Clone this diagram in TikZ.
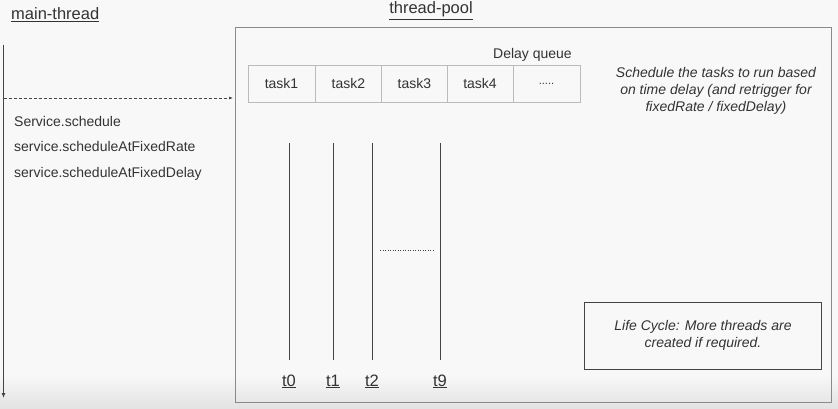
\documentclass[tikz,border=0pt]{standalone}
\usepackage{fontspec}
\setmainfont{Liberation Sans}
\usetikzlibrary{arrows.meta}
\definecolor{bg}{HTML}{F8F8F8}
\definecolor{bgdark}{HTML}{E2E2E2}
\definecolor{txt}{HTML}{333333}
\definecolor{ln}{HTML}{444444}
\definecolor{cellb}{HTML}{BBBBBB}
\definecolor{poolb}{HTML}{8A8A8A}
\begin{document}
\begin{tikzpicture}[x=1pt,y=-1pt,
  lbl/.style={inner sep=0pt,text=txt,font=\fontsize{14}{17}\selectfont},
  title/.style={inner sep=0pt,text=txt,font=\fontsize{16.5}{19}\selectfont},
  cell/.style={draw=cellb,line width=0.8pt,minimum height=37pt,inner sep=0pt,outer sep=0pt,anchor=north west,text=txt,font=\fontsize{14}{17}\selectfont},
  thr/.style={draw=ln,line width=0.8pt},
  note/.style={inner sep=0pt,text=txt,align=center,font=\fontsize{14}{17}\selectfont\itshape}]
\useasboundingbox (0,0) rectangle (838,409);
\fill[bg] (0,0) rectangle (838,409);
\shade[top color=bg,bottom color=bgdark] (0,375) rectangle (838,409);
% main thread
\node[title,anchor=base west] (mainlbl) at (11,20) {\underline{main-thread}};
\coordinate (mtop) at (3.5,45);
\coordinate (mbot) at (3.5,398);
\draw[line width=0.9pt,ln,-{Latex[length=5pt,width=4pt]}] (mtop) -- (mbot);
\coordinate (dstart) at (3.5,98);
\coordinate (dend) at (233,98);
\draw[ln,line width=0.6pt,dash pattern=on 3pt off 2pt,-{Latex[length=4pt,width=3pt]}] (dstart) -- (dend);
\node[lbl,anchor=base west] (s1) at (14,127) {Service.schedule};
\node[lbl,anchor=base west] (s2) at (14,152) {service.scheduleAtFixedRate};
\node[lbl,anchor=base west] (s3) at (14,178) {service.scheduleAtFixedDelay};
% thread pool
\node[title,anchor=base] (poollbl) at (431,14) {\underline{thread-pool}};
\node[draw=poolb,line width=0.9pt,minimum width=596pt,minimum height=375pt,inner sep=0pt,outer sep=0pt,anchor=north west] (pool) at (235,27) {};
\node[lbl,anchor=base east] (dq) at (572,59) {Delay queue};
\node[cell,minimum width=67pt] (c1) at (248,65) {task1};
\node[cell,minimum width=66.7pt] (c2) at (c1.north east) {task2};
\node[cell,minimum width=65.3pt] (c3) at (c2.north east) {task3};
\node[cell,minimum width=66pt] (c4) at (c3.north east) {task4};
\node[cell,minimum width=67pt,font=\fontsize{11}{13}\selectfont] (c5) at (c4.north east) {.....};
\node[note] (sched) at (716,91) {Schedule the tasks to run based\\on time delay (and retrigger for\\fixedRate / fixedDelay)};
% threads
\foreach \n/\x in {0/289,1/333,2/372,9/440}{
  \coordinate (top\n) at (\x,143);
  \coordinate (bot\n) at (\x,360);
  \draw[thr] (top\n) -- (bot\n);
  \node[title,anchor=base] (t\n) at (\x,386) {\underline{t\n}};
}
\coordinate (dotA) at (380,250);
\coordinate (dotB) at (433,250);
\draw[ln,line width=0.5pt,dash pattern=on 0.6pt off 1.9pt] (dotA) -- (dotB);
% life cycle
\node[draw=ln,line width=0.8pt,minimum width=237pt,minimum height=67pt,inner sep=0pt,outer sep=0pt,anchor=north west] (lcbox) at (584.5,302) {};
\node[note] (lc) at (lcbox.center) {Life Cycle: More threads are\\created if required.};
\end{tikzpicture}
\end{document}
